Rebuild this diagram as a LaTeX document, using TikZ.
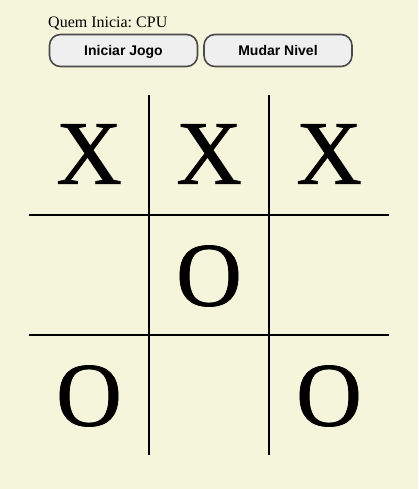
\documentclass[tikz,border=0pt]{standalone}
\usepackage{fontspec}
\setmainfont{Liberation Serif}
\newfontfamily\botaofont{Liberation Sans}
\newfontfamily\pecafont[FakeBold=0.8]{Liberation Serif}
\definecolor{bege}{HTML}{F5F5DC}
\definecolor{cinzaborda}{HTML}{4A4A4A}
\definecolor{cinzabotao}{HTML}{EFEFEF}

\begin{document}
\frenchspacing
\begin{tikzpicture}[x=1pt, y=-1pt,
  botao/.style={draw=cinzaborda, line width=1.6pt, fill=cinzabotao, rounded corners=11pt,
    minimum width=148pt, minimum height=32pt, inner sep=0pt},
  rotulo/.style={anchor=base, inner sep=0pt, font=\botaofont\bfseries\fontsize{14}{16}\selectfont},
  peca/.style={inner sep=0pt, font=\pecafont\fontsize{91}{91}\selectfont},
  grade/.style={line width=2pt, black}]
  \fill[bege] (0,0) rectangle (418,489);

  % Header
  \node[anchor=base west, inner sep=0pt, font=\fontsize{16}{18}\selectfont] (quem) at (48,28) {Quem Inicia: CPU};
  \node[botao] (iniciar) at (123.5,50.5) {};
  \node[botao] (mudar) at (278,50.5) {};
  \node[rotulo] (iniciartxt) at (iniciar.center |- 0,56) {Iniciar Jogo};
  \node[rotulo] (mudartxt) at (mudar.center |- 0,56) {Mudar Nivel};

  % Board lines
  \foreach \x in {149,269} \draw[grade] (\x,95) -- (\x,455);
  \foreach \y in {215,335} \draw[grade] (29,\y) -- (389,\y);

  % Pieces
  \node[peca] (c11) at (89,154) {X};
  \node[peca] (c12) at (209,154) {X};
  \node[peca] (c13) at (329,154) {X};
  \node[peca] (c22) at (209,276) {O};
  \node[peca] (c31) at (89,396) {O};
  \node[peca] (c33) at (329,396) {O};
\end{tikzpicture}
\end{document}
